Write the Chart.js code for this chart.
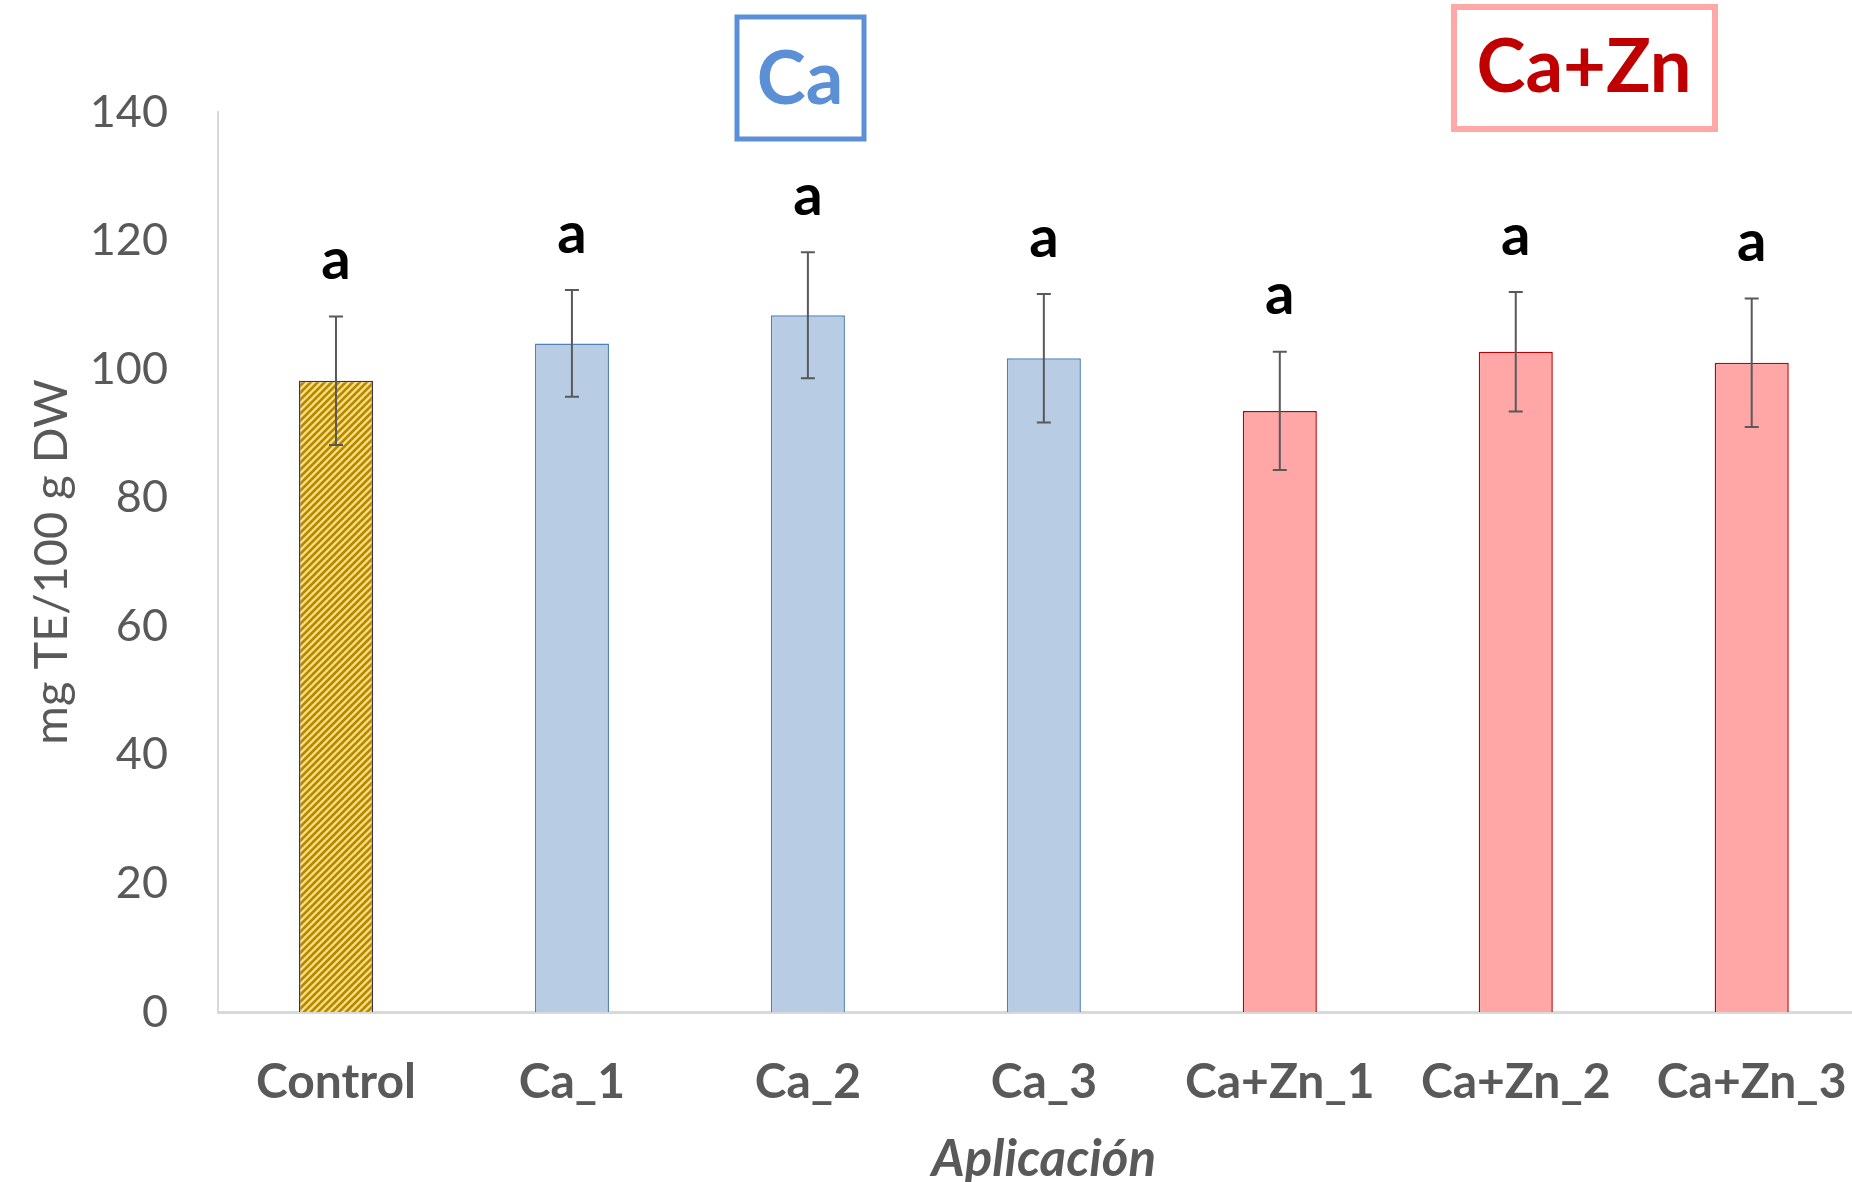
<!DOCTYPE html>
<html>
<head>
<meta charset="utf-8">
<script src="https://cdn.jsdelivr.net/npm/chart.js@4"></script>
<style>
  html, body { margin: 0; padding: 0; background: #fff; overflow: hidden; }
  #chart { position: absolute; left: 0; top: 0; }
</style>
</head>
<body>
<canvas id="chart" width="1890" height="1182"></canvas>
<script>
"use strict";

// data
const categories = ["Control", "Ca_1", "Ca_2", "Ca_3", "Ca+Zn_1", "Ca+Zn_2", "Ca+Zn_3"];
const values = [98.2, 104.0, 108.4, 101.7, 93.5, 102.7, 101.0];
const errors = [10.0, 8.3, 9.8, 10.0, 9.2, 9.3, 10.0];
const letters = ["a", "a", "a", "a", "a", "a", "a"];
const groupLabels = ["Ca", "Ca+Zn"];
const yTicks = [0, 20, 40, 60, 80, 100, 120, 140];

const FONT = "Lato, 'Noto Sans', sans-serif";
const GREY = "#595959";

/**
 * Diagonal hatch for the control bar.
 */
function makeHatch() {
  const c = document.createElement("canvas");
  c.width = 7;
  c.height = 7;
  const p = c.getContext("2d");
  p.fillStyle = "#ffe28a";
  p.fillRect(0, 0, 7, 7);
  p.strokeStyle = "#b88a00";
  p.lineWidth = 2.8;
  p.beginPath();
  p.moveTo(-2, 9); p.lineTo(9, -2);
  p.moveTo(-2, 2); p.lineTo(2, -2);
  p.moveTo(5, 9); p.lineTo(9, 5);
  p.stroke();
  return p.createPattern(c, "repeat");
}

const ctx = document.getElementById("chart").getContext("2d");
const hatch = makeHatch();

const fills = [hatch, "#b8cce4", "#b8cce4", "#b8cce4", "#ffa6a6", "#ffa6a6", "#ffa6a6"];
const borders = ["#403152", "#4f81bd", "#4f81bd", "#4f81bd", "#c00000", "#c00000", "#c00000"];

/**
 * Error bars, letters above them, axis title and the two group boxes.
 */
const extras = {
  id: "extras",
  afterDatasetsDraw(chart) {
    const c = chart.ctx;
    const x = chart.scales.x;
    const y = chart.scales.y;
    c.save();
    c.strokeStyle = GREY;
    c.lineWidth = 2;
    c.textAlign = "center";
    c.textBaseline = "middle";
    values.forEach((v, i) => {
      const cx = x.getPixelForValue(i);
      const top = y.getPixelForValue(v + errors[i]);
      const bot = y.getPixelForValue(v - errors[i]);
      c.beginPath();
      c.moveTo(cx, top); c.lineTo(cx, bot);
      c.moveTo(cx - 7, top); c.lineTo(cx + 7, top);
      c.moveTo(cx - 7, bot); c.lineTo(cx + 7, bot);
      c.stroke();

      c.fillStyle = "#000";
      c.font = "bold 58px " + FONT;
      c.fillText(letters[i], cx, top - 56);
    });

    // x axis title
    c.fillStyle = GREY;
    c.font = "italic bold 51px " + FONT;
    c.fillText("Aplicación", (chart.chartArea.left + chart.chartArea.right) / 2, 1160);

    // group boxes
    c.lineWidth = 5;
    c.strokeStyle = "#5b8fd6";
    c.strokeRect(737, 17, 127, 122);
    c.fillStyle = "#5b8fd6";
    c.font = "bold 74px " + FONT;
    c.fillText(groupLabels[0], 800, 80);

    c.lineWidth = 6;
    c.strokeStyle = "#ffa8a8";
    c.strokeRect(1454, 7, 261, 122);
    c.fillStyle = "#c00000";
    c.font = "bold 74px " + FONT;
    c.fillText(groupLabels[1], 1584, 68);
    c.restore();
  }
};

new Chart(ctx, {
  type: "bar",
  data: {
    labels: categories,
    datasets: [{
      data: values,
      backgroundColor: fills,
      borderColor: borders,
      borderWidth: 1.5,
      barPercentage: 0.314,
      categoryPercentage: 1
    }]
  },
  options: {
    responsive: false,
    animation: false,
    layout: { padding: { top: 112, right: 20, bottom: 0, left: 0 } },
    plugins: { legend: { display: false }, tooltip: { enabled: false } },
    scales: {
      x: {
        afterFit(scale) {
          scale.height = 170;
        },
        grid: { display: false, drawTicks: false },
        border: { display: true, color: "#d9d9d9", width: 3 },
        ticks: {
          color: GREY,
          padding: 42,
          maxRotation: 0,
          font: { family: FONT, size: 48, weight: "bold" }
        }
      },
      y: {
        min: 0,
        max: 140,
        afterBuildTicks(scale) {
          scale.ticks = yTicks.map(v => ({ value: v }));
        },
        afterFit(scale) {
          scale.width = 218;
        },
        grid: { display: false, drawTicks: false },
        border: { display: true, color: "#d9d9d9", width: 2 },
        ticks: {
          color: GREY,
          padding: 50,
          font: { family: FONT, size: 45 }
        },
        title: {
          display: true,
          text: "mg TE/100 g DW",
          color: GREY,
          padding: { top: 24, bottom: 0 },
          font: { family: FONT, size: 47 }
        }
      }
    }
  },
  plugins: [extras]
});
</script>
</body>
</html>
